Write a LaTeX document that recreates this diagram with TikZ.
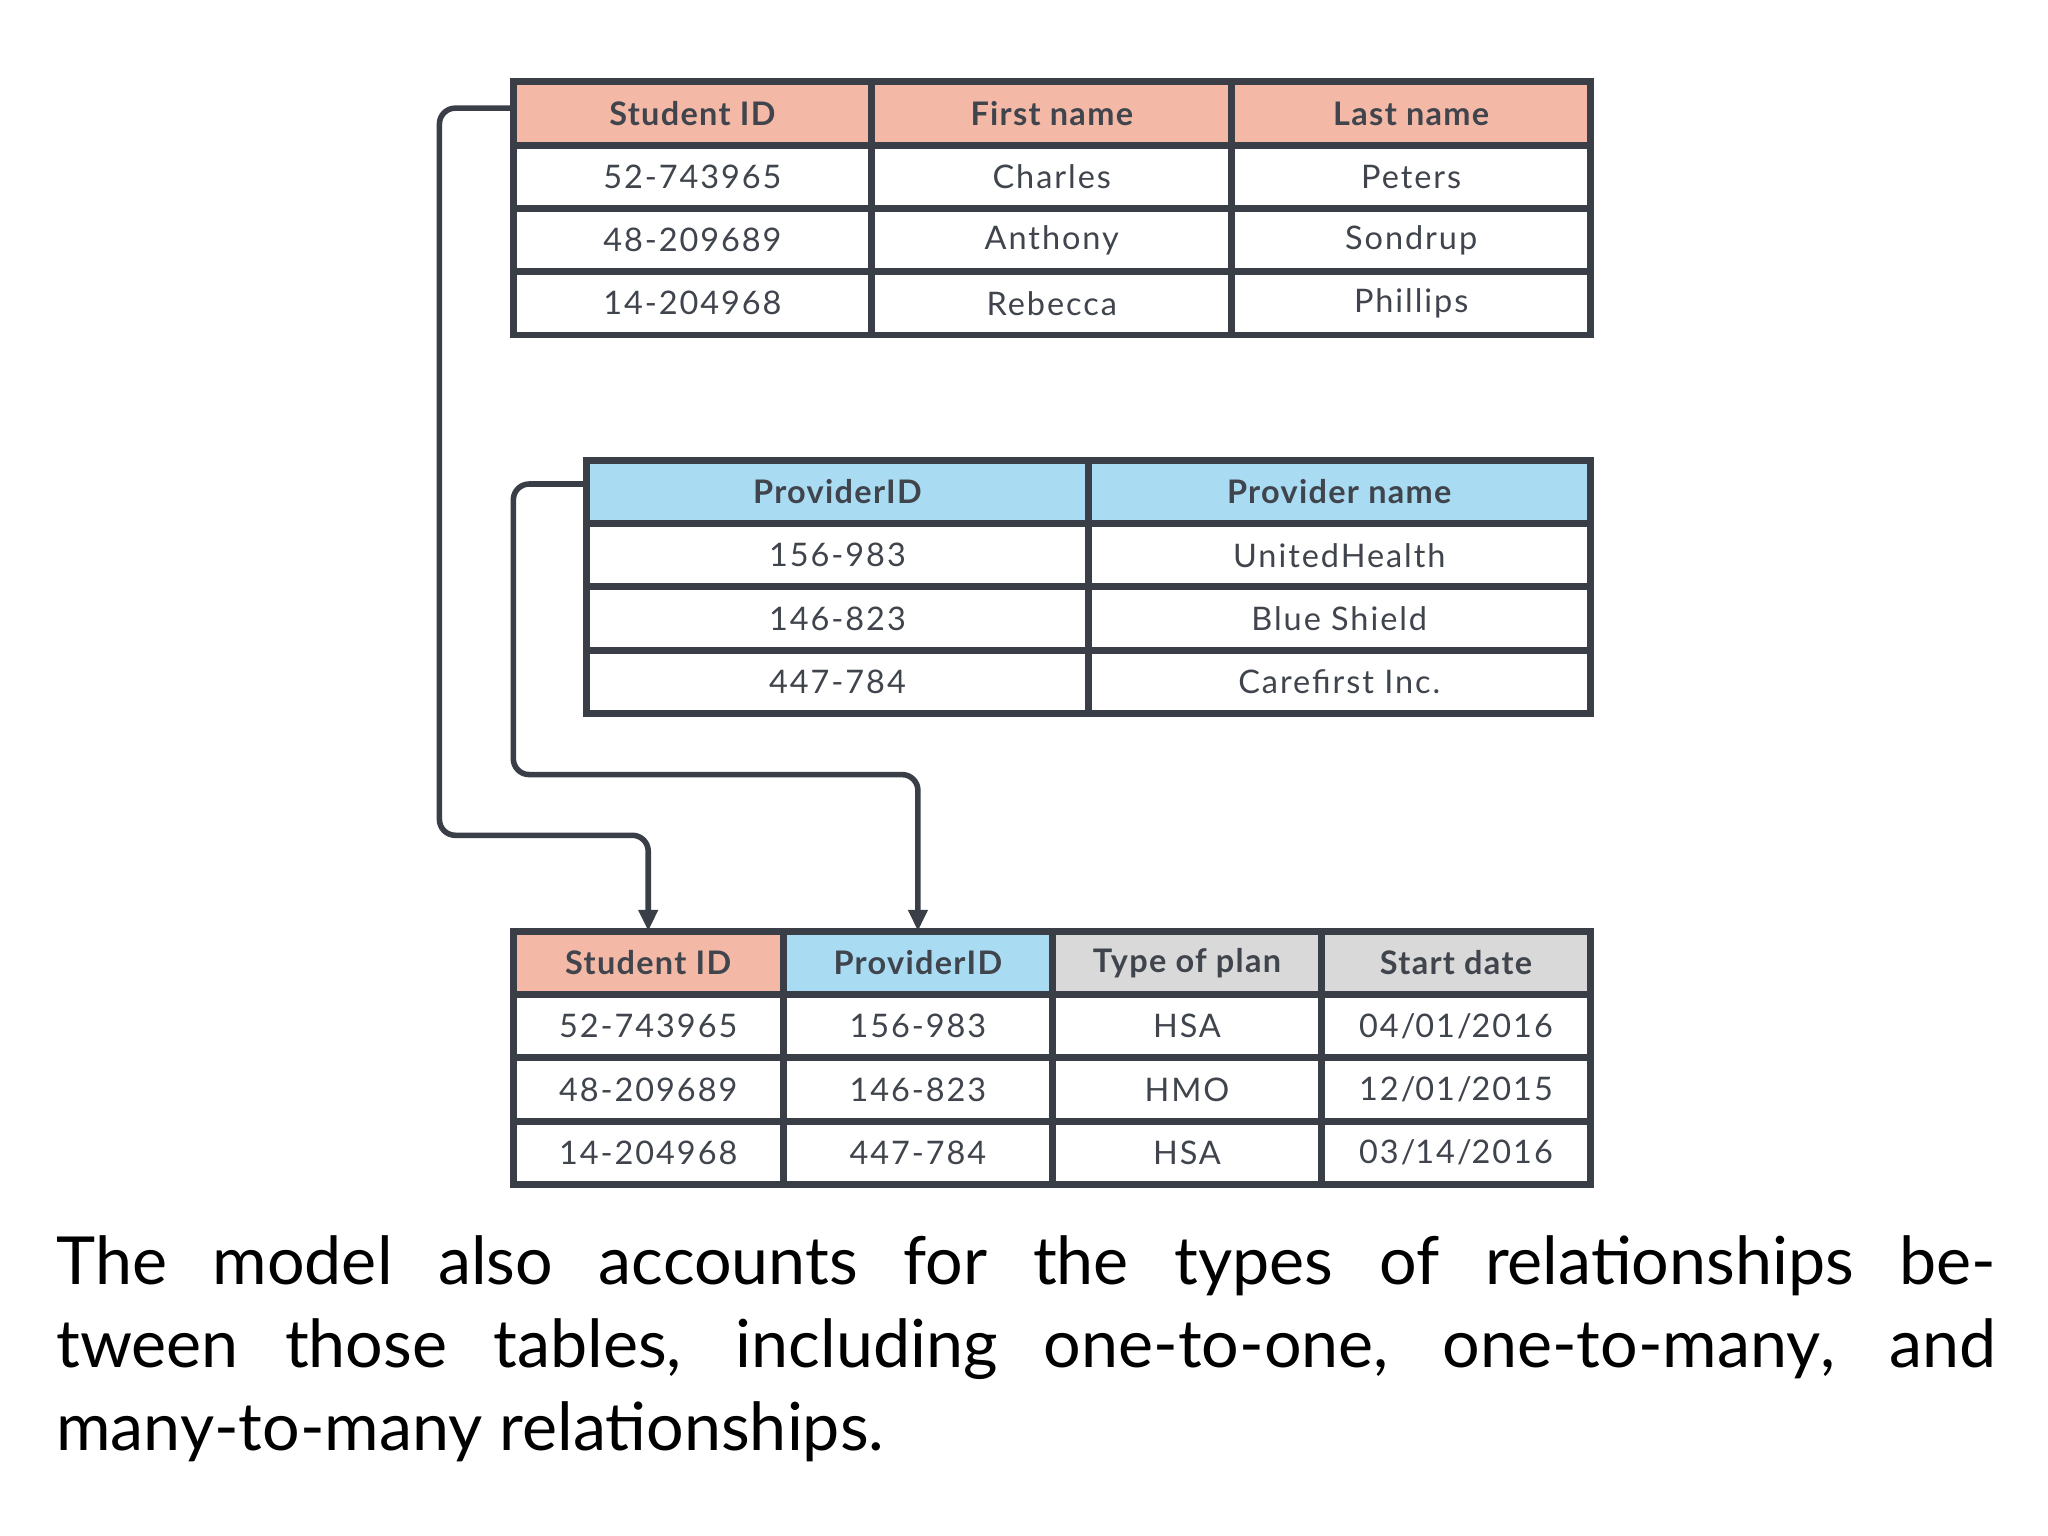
\documentclass[tikz,border=0pt]{standalone}
\usepackage{fontspec}
\setmainfont{Lato}
\usetikzlibrary{arrows.meta}
\definecolor{salmon}{HTML}{F4B9A6}
\definecolor{lblue}{HTML}{A9DCF2}
\definecolor{lgray}{HTML}{D9D9D9}
\definecolor{ink}{HTML}{40454D}
\definecolor{grid}{HTML}{3A3F47}
\tikzset{
 cell/.style={draw=grid,line width=1.5pt,minimum height=0.48cm,inner sep=0pt,outer sep=0pt,font=\fontsize{7}{9}\selectfont\addfontfeatures{LetterSpace=6},text=ink},
 hdr/.style={cell,font=\fontsize{7}{9}\selectfont\bfseries\addfontfeatures{LetterSpace=4}},
 link/.style={draw=grid,line width=1.2pt,rounded corners=0.12cm,-{Triangle[length=0.16cm,width=0.14cm]}}
}
\newcommand{\cellat}[7]{% name, x1, x2, y1(top, px), style, fill, text
 \node[#5,fill=#6,minimum width=#3*0.01cm-#2*0.01cm,anchor=north west] (#1) at (#2*0.01,-#4*0.01) {#7};}
\begin{document}
\begin{tikzpicture}
\useasboundingbox (0,0) rectangle (15.52,-11.64);
% Table 1
\cellat{a0}{389}{661}{62}{hdr}{salmon}{Student ID}
\cellat{b0}{661}{934}{62}{hdr}{salmon}{First name}
\cellat{c0}{934}{1206}{62}{hdr}{salmon}{Last name}
\foreach \i/\s/\f/\l [evaluate=\i as \y using 62+48*\i] in {1/52-743965/Charles/Peters,2/48-209689/Anthony/Sondrup,3/14-204968/Rebecca/Phillips}{
 \cellat{a\i}{389}{661}{\y}{cell}{white}{\s}
 \cellat{b\i}{661}{934}{\y}{cell}{white}{\f}
 \cellat{c\i}{934}{1206}{\y}{cell}{white}{\l}
}
% Table 2
\cellat{p0}{445}{825}{349}{hdr}{lblue}{ProviderID}
\cellat{q0}{825}{1206}{349}{hdr}{lblue}{Provider name}
\foreach \i/\s/\f [evaluate=\i as \y using 349+48*\i] in {1/156-983/UnitedHealth,2/146-823/Blue Shield,3/447-784/Carefirst Inc.}{
 \cellat{p\i}{445}{825}{\y}{cell}{white}{\s}
 \cellat{q\i}{825}{1206}{\y}{cell}{white}{\f}
}
% Table 3
\cellat{s0}{389}{594}{706}{hdr}{salmon}{Student ID}
\cellat{t0}{594}{798}{706}{hdr}{lblue}{ProviderID}
\cellat{u0}{798}{1002}{706}{hdr}{lgray}{Type of plan}
\cellat{v0}{1002}{1206}{706}{hdr}{lgray}{Start date}
\foreach \i/\s/\p/\t/\d [evaluate=\i as \y using 706+48*\i] in {1/52-743965/156-983/HSA/04\slash 01\slash 2016,2/48-209689/146-823/HMO/12\slash 01\slash 2015,3/14-204968/447-784/HSA/03\slash 14\slash 2016}{
 \cellat{s\i}{389}{594}{\y}{cell}{white}{\s}
 \cellat{t\i}{594}{798}{\y}{cell}{white}{\p}
 \cellat{u\i}{798}{1002}{\y}{cell}{white}{\t}
 \cellat{v\i}{1002}{1206}{\y}{cell}{white}{\d}
}
% connectors
\draw[link] ([yshift=0.04cm]a0.west) -| (3.33,-6.33) -| (s0.north);
\draw[link] ([yshift=0.06cm]p0.west) -| (3.89,-5.87) -| (t0.north);
% paragraph
\node[anchor=north west,text width=14.70cm,align=justify,inner sep=0pt,text=black,
 font=\fontsize{14.3}{17.9}\selectfont] (para) at (0.42,-9.36)
 {\hyphenpenalty=10000\exhyphenpenalty=10000 The model also accounts for the types of relationships between those tables, including \mbox{one-to-one}, \mbox{one-to-many}, and \mbox{many-to-many} relationships.};
\end{tikzpicture}
\end{document}
